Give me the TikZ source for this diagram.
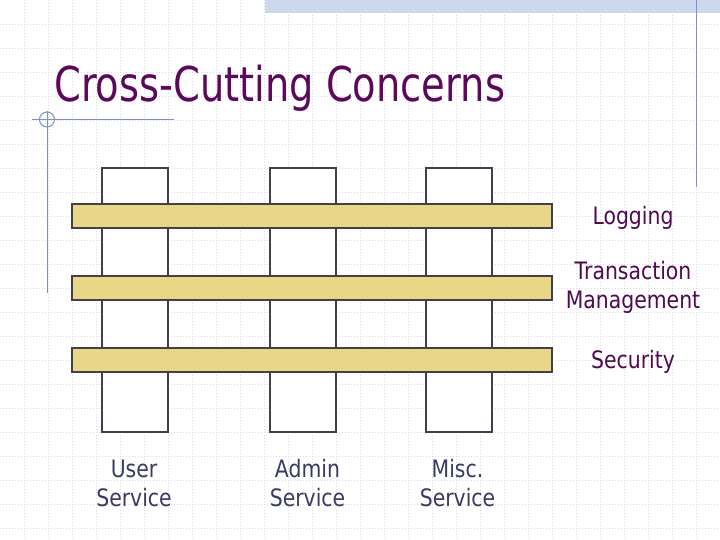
\documentclass[tikz,border=0pt]{standalone}
\usepackage{fontspec}
\setmainfont{DejaVu Sans}
\newfontfamily\titlefont[FakeStretch=0.8]{DejaVu Sans}
\newfontfamily\labelfont[FakeStretch=0.85]{DejaVu Sans}
\usetikzlibrary{positioning}

\definecolor{titlepurple}{RGB}{92,8,92}
\definecolor{concernpurple}{RGB}{80,10,80}
\definecolor{servicenavy}{RGB}{58,58,100}
\definecolor{concernfill}{RGB}{233,214,135}
\definecolor{boxedge}{RGB}{66,64,74}
\definecolor{decoblue}{RGB}{128,144,196}
\definecolor{topbarblue}{RGB}{206,216,236}
\definecolor{gridgray}{RGB}{214,216,226}

\tikzset{
  gridline/.style={gridgray, line width=1pt, dotted},
  decoline/.style={decoblue, line width=1pt},
  column/.style={draw=boxedge, fill=white, line width=1.3pt, inner sep=0,
    minimum width=66, minimum height=264},
  concern/.style={draw=boxedge, fill=concernfill, line width=1.3pt, inner sep=0,
    minimum width=480, minimum height=24},
  titletext/.style={titlepurple, inner sep=0, font=\titlefont\fontsize{48}{56}\selectfont},
  concernlabel/.style={concernpurple, inner sep=0, align=center,
    font=\labelfont\fontsize{24}{28.5}\selectfont},
  servicelabel/.style={servicenavy, inner sep=0, align=center,
    font=\labelfont\fontsize{24}{28.5}\selectfont}
}

\begin{document}
\begin{tikzpicture}[x=1pt, y=-1pt]
    % page is 720 x 540, origin top-left like the slide
    \useasboundingbox (0,0) rectangle (720,540);
    \fill[white] (0,0) rectangle (720,540);

    % --- Slide background ---
    \foreach \gx in {24.5,48.5,...,720} \draw[gridline] (\gx,0) -- (\gx,540);
    \foreach \gy in {24.5,48.5,...,540} \draw[gridline] (0,\gy) -- (720,\gy);
    \fill[topbarblue] (265,0) rectangle (720,13); % top bar
    \draw[decoline] (696,0) -- (696,187);          % right rule
    \draw[decoline] (32,119.5) -- (174,119.5);     % left cross
    \draw[decoline] (47,111) -- (47,293);
    \draw[decoline] (47,119.5) circle (7.5);

    % --- Title ---
    \node[titletext, anchor=base west] (title) at (54,102) {Cross-Cutting Concerns};

    % --- Services (vertical columns) ---
    \node[column] (userCol) at (135,300) {};
    \node[column] (adminCol) at (303,300) {};
    \node[column] (miscCol) at (459,300) {};

    % --- Concerns (bars across the services) ---
    \node[concern] (logBar) at (312,216) {};
    \node[concern] (txBar) at (312,288) {};
    \node[concern] (secBar) at (312,360) {};

    % --- Text Labels (base = last line) ---
    \node[concernlabel, anchor=base] (logLabel) at (633,225) {Logging};
    \node[concernlabel, anchor=base] (txLabel) at (633,308) {Transaction\\Management};
    \node[concernlabel, anchor=base] (secLabel) at (633,368) {Security};

    \node[servicelabel, anchor=base] (userLabel) at (134,506) {User\\Service};
    \node[servicelabel, anchor=base] (adminLabel) at (307.5,506) {Admin\\Service};
    \node[servicelabel, anchor=base] (miscLabel) at (457.5,506) {Misc.\\Service};

\end{tikzpicture}
\end{document}
